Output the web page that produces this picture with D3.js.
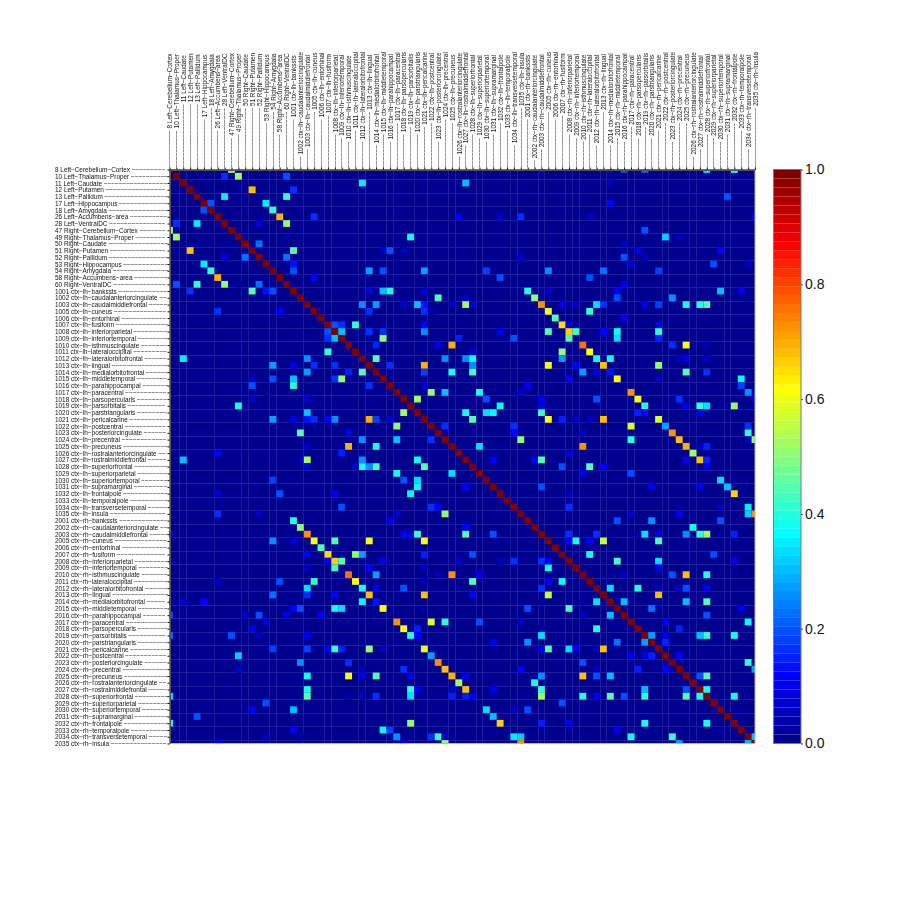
<!DOCTYPE html>
<html>
<head>
<meta charset="utf-8">
<script src="https://cdn.jsdelivr.net/npm/d3@7"></script>
<style>
    html, body { margin: 0; padding: 0; background: #fff; }
    svg { display: block; font-family: "Liberation Sans", sans-serif; }
</style>
</head>
<body>
<svg id="chart" width="913" height="913"></svg>
<script>
// Region names
const subcorticalLabels = ["8 Left-Cerebellum-Cortex", "10 Left-Thalamus-Proper", "11 Left-Caudate", "12 Left-Putamen", "13 Left-Pallidum", "17 Left-Hippocampus", "18 Left-Amygdala", "26 Left-Accumbens-area", "28 Left-VentralDC", "47 Right-Cerebellum-Cortex", "49 Right-Thalamus-Proper", "50 Right-Caudate", "51 Right-Putamen", "52 Right-Pallidum", "53 Right-Hippocampus", "54 Right-Amygdala", "58 Right-Accumbens-area", "60 Right-VentralDC"];
const corticalIds = [1, 2, 3, 5, 6, 7, 8, 9, 10, 11, 12, 13, 14, 15, 16, 17, 18, 19, 20, 21, 22, 23, 24, 25, 26, 27, 28, 29, 30, 31, 32, 33, 34, 35];
const corticalNames = ["bankssts", "caudalanteriorcingulate", "caudalmiddlefrontal", "cuneus", "entorhinal", "fusiform", "inferiorparietal", "inferiortemporal", "isthmuscingulate", "lateraloccipital", "lateralorbitofrontal", "lingual", "medialorbitofrontal", "middletemporal", "parahippocampal", "paracentral", "parsopercularis", "parsorbitalis", "parstriangularis", "pericalcarine", "postcentral", "posteriorcingulate", "precentral", "precuneus", "rostralanteriorcingulate", "rostralmiddlefrontal", "superiorfrontal", "superiorparietal", "superiortemporal", "supramarginal", "frontalpole", "temporalpole", "transversetemporal", "insula"];

// Colorbar ticks
const colorbarTicks = [0, 0.2, 0.4, 0.6, 0.8, 1];

// Faint seams in the picture, given as the column or row they follow
const seamColumns = [1, 2, 6, 10, 11, 14, 15, 19, 22, 23, 27, 28, 31, 32, 35, 37, 40, 41, 44, 45, 49, 50, 53, 54, 57, 58, 59, 62, 63, 66, 67, 71, 72, 75, 76, 80, 81];
const seamRows = [1, 3, 5, 7, 9, 11, 13, 15, 17, 19, 21, 23, 25, 27, 29, 31, 33, 35, 37, 39, 41, 44, 46, 48, 50, 52, 54, 56, 58, 60, 62, 64, 66, 68, 70, 72, 74, 76, 78, 80, 82, 84];

// Upper triangle: one line per row, [column, value]. Everything else is 0
const upperTriangle = [
    [[9, .5], [54, .1], [58, .05], [64, .05], [66, .2], [69, .22], [78, .33], [82, .38]],
    [[8, .17], [10, .52], [17, .2]],
    [[28, .35], [43, .3], [64, .05]],
    [[12, .68], [18, .17]],
    [[8, .35], [17, .42], [81, .2]],
    [[6, .2], [14, .35], [64, .12]],
    [[15, .42]],
    [[16, .7], [21, .17], [42, .12], [48, .07], [51, .17], [61, .06], [85, .1]],
    [[13, .08], [17, .5]],
    [[69, .2]],
    [[17, .03], [35, .38], [72, .32], [74, .05]],
    [[13, .22], [66, .05]],
    [[18, .45], [31, .05], [32, .2], [34, .05], [68, .1], [80, .12]],
    [[17, .22], [51, .07], [66, .2], [69, .06]],
    [[18, .13], [33, .03], [67, .07], [79, .2], [84, .05]],
    [[18, .2], [29, .27], [31, .2], [37, .27], [46, .18], [55, .25], [63, .22], [71, .18]],
    [[21, .12], [48, .2], [61, .2]],
    [[66, .1]],
    [[29, .08], [31, .3], [32, .4], [37, .08], [52, .4], [55, .07], [65, .12], [80, .3], [83, .1]],
    [[39, .45], [43, .05], [53, .5], [65, .2], [73, .25], [84, .03]],
    [[28, .25], [30, .27], [34, .07], [36, .3], [37, .13], [41, .05], [43, .52], [44, .08], [54, .72], [57, .1], [59, .05], [62, .33], [63, .17], [69, .1], [71, .18], [75, .38], [77, .4], [78, .45]],
    [[29, .17], [37, .17], [38, .03], [55, .6], [61, .42]],
    [[56, .45], [66, .1]],
    [[24, .2], [25, .17], [27, .42], [37, .12], [57, .65], [58, .1], [71, .1]],
    [[25, .3], [29, .17], [31, .17], [37, .25], [48, .1], [55, .45], [58, .66], [59, .43], [63, .12], [65, .38], [71, .42]],
    [[31, .5], [42, .15], [50, .2], [58, .45], [65, .33], [71, .15]],
    [[30, .15], [39, .1], [41, .7], [60, .75], [73, .17], [75, .62], [78, .04]],
    [[44, .07], [57, .5], [61, .62]],
    [[30, .45], [40, .25], [43, .25], [44, .38], [57, .27], [62, .38], [64, .37], [74, .05], [75, .1], [78, .06]],
    [[32, .17], [37, .7], [44, .25], [55, .6], [59, .12], [63, .68], [71, .5]],
    [[37, .18], [41, .38], [44, .43], [60, .27], [62, .1], [64, .13], [75, .45], [78, .17]],
    [[58, .1], [65, .62], [71, .05], [83, .37]],
    [[37, .07], [52, .1], [83, .18]],
    [[38, .5], [40, .3], [45, .38], [51, .07], [67, .72], [84, .25]],
    [[36, .52], [46, .2], [54, .1], [62, .2], [68, .62], [74, .17], [85, .1]],
    [[48, .37], [54, .08], [69, .4], [75, .1], [77, .42], [78, .33], [82, .5]],
    [[43, .38], [46, .33], [47, .36], [54, .42], [68, .15], [69, .12], [77, .1]],
    [[44, .45], [55, .62], [57, .15], [59, .06], [61, .06], [63, .68], [71, .58]],
    [[40, .17], [50, .17], [67, .58], [72, .27], [84, .17]],
    [[50, .12], [60, .06], [73, .72], [84, .42]],
    [[51, .5], [67, .4], [74, .68], [84, .05], [85, .5]],
    [[45, .33], [60, .72], [75, .7], [77, .06], [78, .15]],
    [[58, .07], [76, .52]],
    [[47, .12], [53, .12], [54, .45], [75, .1], [77, .68], [78, .15]],
    [[57, .2], [61, .45], [63, .12], [78, .1]],
    [[60, .1], [67, .2]],
    [[80, .33]],
    [[54, .2], [70, .1], [77, .1], [81, .3]],
    [[58, .05], [82, .66]],
    [],
    [[58, .17], [80, .05], [84, .35]],
    [[67, .07], [74, .12], [84, .32], [85, .72]],
    [[65, .2], [70, .25], [80, .2]],
    [[76, .38]],
    [[58, .17], [62, .17], [64, .03], [68, .03], [69, .33], [71, .08], [75, .25], [77, .42], [78, .52], [82, .15]],
    [[58, .12], [59, .38], [61, .12], [63, .55], [71, .45]],
    [],
    [[61, .38], [79, .2]],
    [[65, .43], [71, .33], [82, .1]],
    [[71, .1]],
    [[64, .03], [66, .05], [73, .2], [75, .68], [78, .4]],
    [],
    [[64, .33], [68, .4], [71, .05], [74, .05], [75, .2], [78, .1]],
    [[71, .68]],
    [[66, .3], [71, .04], [75, .3], [78, .45]],
    [[70, .22], [83, .1]],
    [[78, .2]],
    [[72, .1], [84, .37]],
    [[74, .15]],
    [[70, .28], [72, .08], [77, .3], [78, .42], [82, .38]],
    [[72, .15]],
    [],
    [[74, .12]],
    [[84, .42]],
    [[85, .28]],
    [[77, .2], [78, .45]],
    [],
    [[78, .38]],
    [[82, .38]],
    [],
    [[83, .03]],
    [],
    [],
    [],
    [[85, .3]],
    []
];

// Full label list: subcortical, then left and right cortex
const labels = subcorticalLabels
    .concat(corticalNames.map((n, i) => `${1000 + corticalIds[i]} ctx-lh-${n}`))
    .concat(corticalNames.map((n, i) => `${2000 + corticalIds[i]} ctx-rh-${n}`));

// Make the symmetric matrix as a flat list of cells
const strength = labels.map(() => labels.map(() => 0));
labels.forEach((_, i) => { strength[i][i] = 1; });
upperTriangle.forEach((row, r) => row.forEach(([c, v]) => {
    strength[r][c] = v;
    strength[c][r] = v;
}));
const cells = [];
strength.forEach((row, r) => row.forEach((v, c) => cells.push({ r, c, v })));

// The usual 64 step jet colormap
function jet(t) {
    const clamp = v => Math.max(0, Math.min(1, v));
    const red = clamp(Math.min((t - 24) / 16, 1 - (t - 56) / 16));
    const green = clamp(Math.min((t - 8) / 16, 1 - (t - 40) / 16));
    const blue = clamp(Math.min(0.5 + t / 16, 1 - (t - 24) / 16));
    return d3.rgb(red * 255, green * 255, blue * 255).formatHex();
}
const jetColors = d3.range(1, 65).map(jet);
const color = d3.scaleQuantize().domain([0, 1]).range(jetColors);

// Set up dimensions
const svg = d3.select("#chart");
const plot = { left: 169.5, right: 755, top: 169.5, bottom: 743.5 };
const bar = { left: 773.5, right: 801 };
const labelSize = 6.4;

// Axes run from the centre of the first cell to the centre of the last one
const x = d3.scalePoint().domain(d3.range(labels.length)).range([plot.left, plot.right]);
const y = d3.scalePoint().domain(d3.range(labels.length)).range([plot.top, plot.bottom]);

svg.append("clipPath").attr("id", "plotClip").append("rect")
    .attr("x", plot.left)
    .attr("y", plot.top)
    .attr("width", plot.right - plot.left)
    .attr("height", plot.bottom - plot.top);

// Background in the colour of value 0
svg.append("rect")
    .attr("x", plot.left)
    .attr("y", plot.top)
    .attr("width", plot.right - plot.left)
    .attr("height", plot.bottom - plot.top)
    .attr("fill", color(0));

// Draw the seams between the background and the cells
const seams = svg.append("g")
    .attr("stroke", "#1c1c9c")
    .attr("shape-rendering", "crispEdges");
seams.selectAll(".seam-x")
    .data(seamColumns)
    .enter().append("line")
    .attr("class", "seam-x")
    .attr("x1", d => x(d) + x.step() / 2)
    .attr("x2", d => x(d) + x.step() / 2)
    .attr("y1", plot.top)
    .attr("y2", plot.bottom);
seams.selectAll(".seam-y")
    .data(seamRows)
    .enter().append("line")
    .attr("class", "seam-y")
    .attr("x1", plot.left)
    .attr("x2", plot.right)
    .attr("y1", d => y(d) + y.step() / 2)
    .attr("y2", d => y(d) + y.step() / 2);

// Draw the cells
svg.append("g")
    .attr("clip-path", "url(#plotClip)")
    .selectAll("rect")
    .data(cells.filter(d => d.v > 0))
    .enter().append("rect")
    .attr("x", d => x(d.c) - x.step() / 2)
    .attr("y", d => y(d.r) - y.step() / 2)
    .attr("width", x.step())
    .attr("height", y.step())
    .attr("fill", d => color(d.v));

// Frame on the far sides
svg.append("path")
    .attr("d", `M${plot.left},${plot.bottom}H${plot.right}V${plot.top}`)
    .attr("fill", "none")
    .attr("stroke", "#b4b4b4");

// Add the text of a tick: the name, with a leader made of minus signs running to the axis
const minus = "\u2212";
function styleTicks(g) {
    g.attr("opacity", 0.99);
    g.select(".domain").attr("stroke", "#555");
    g.selectAll("line").attr("stroke", "#000");
    g.selectAll("text").attr("font-size", labelSize).attr("fill", "#111");
}

svg.append("g")
    .attr("transform", `translate(${plot.left}, 0)`)
    .call(d3.axisLeft(y).tickSize(2).tickSizeOuter(0).tickFormat(i => labels[i].replace(/-/g, minus)))
    .call(styleTicks)
    .selectAll("text")
    .attr("text-anchor", "start")
    .attr("x", 55 - plot.left)
    .each(function () {
        const base = this.textContent + " ";
        let n = 0;
        this.textContent = base;
        while (this.getComputedTextLength() < 110) {
            n += 1;
            this.textContent = base + minus.repeat(n);
        }
    });

svg.append("g")
    .attr("transform", `translate(0, ${plot.top})`)
    .call(d3.axisTop(x).tickSize(2).tickSizeOuter(0).tickFormat(i => labels[i].replace(/-/g, minus)))
    .call(styleTicks)
    .selectAll("text")
    .attr("text-anchor", "start")
    .attr("x", 0)
    .attr("y", 0)
    .attr("dy", 0)
    .attr("transform", `translate(${labelSize * 0.35}, -2) rotate(-90)`)
    .each(function () {
        const base = " " + this.textContent;
        let n = 0;
        this.textContent = base;
        while (this.getComputedTextLength() < 112) {
            n += 1;
            this.textContent = minus.repeat(n) + base;
        }
    });

// Colorbar
const barY = d3.scaleBand().domain(d3.range(64)).range([plot.bottom, plot.top]);
svg.append("g")
    .selectAll("rect")
    .data(jetColors)
    .enter().append("rect")
    .attr("x", bar.left)
    .attr("y", (d, i) => barY(i))
    .attr("width", bar.right - bar.left)
    .attr("height", barY.bandwidth())
    .attr("fill", d => d);

svg.append("rect")
    .attr("x", bar.left)
    .attr("y", plot.top)
    .attr("width", bar.right - bar.left)
    .attr("height", plot.bottom - plot.top)
    .attr("fill", "none")
    .attr("stroke", "#7a7a7a");

const barScale = d3.scaleLinear().domain([0, 1]).range([plot.bottom, plot.top]);
svg.append("g")
    .attr("transform", `translate(${bar.right}, 0)`)
    .call(d3.axisRight(barScale).tickValues(colorbarTicks).tickSize(2).tickPadding(2).tickFormat(d3.format(".1f")))
    .call(g => g.select(".domain").remove())
    .call(g => g.selectAll("line").attr("stroke", "#555"))
    .selectAll("text")
    .attr("font-size", 14)
    .attr("fill", "#111");
</script>
</body>
</html>
